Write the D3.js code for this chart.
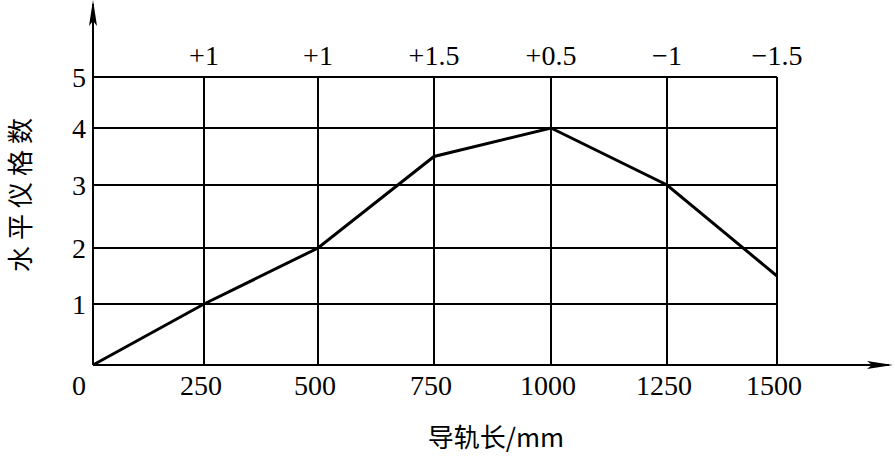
<!DOCTYPE html>
<html>
<head>
<meta charset="utf-8">
<script src="https://cdn.jsdelivr.net/npm/d3@7"></script>
<style>
  body { margin: 0; background: #fff; }
  text { fill: #000; }
</style>
</head>
<body>
<div class="board"></div>
<script>
// globals
var width = 895;
var height = 456;

// data
var lengths = [0, 250, 500, 750, 1000, 1250, 1500];
var readings = [0, 1, 2, 3.5, 4, 3, 1.5];
var yTicks = [1, 2, 3, 4, 5];
var diffLabels = ['+1', '+1', '+1.5', '+0.5', '\u22121', '\u22121.5'];
var xTitle = '导轨长/mm';
var yTitle = '水平仪格数';

// the grid in the original is hand drawn and not quite even, so the scales are piecewise
var x = d3.scaleLinear().domain(lengths).range([93, 204, 318, 434, 551, 667, 777]);
var y = d3.scaleLinear().domain([0].concat(yTicks)).range([365, 304, 248, 185, 128, 77]);

var serif = '"Liberation Serif", "Times New Roman", serif';
var cjk = '"Noto Sans CJK SC", sans-serif';

var svg = d3.select('.board').append('svg')
  .attr('width', width)
  .attr('height', height);

// horizontal grid
svg.append('g').selectAll('line').data(yTicks)
  .enter().append('line')
  .attr('x1', x(0))
  .attr('x2', x(1500))
  .attr('y1', function(d) { return y(d); })
  .attr('y2', function(d) { return y(d); })
  .attr('stroke', '#000')
  .attr('stroke-width', 2);

// vertical grid
svg.append('g').selectAll('line').data(lengths.slice(1))
  .enter().append('line')
  .attr('x1', function(d) { return x(d); })
  .attr('x2', function(d) { return x(d); })
  .attr('y1', y(0))
  .attr('y2', y(5))
  .attr('stroke', '#000')
  .attr('stroke-width', 2);

// axes with arrows
svg.append('line')
  .attr('x1', x(0)).attr('x2', x(0))
  .attr('y1', y(0)).attr('y2', 4)
  .attr('stroke', '#000').attr('stroke-width', 2);
svg.append('line')
  .attr('x1', x(0)).attr('x2', 889)
  .attr('y1', y(0)).attr('y2', y(0))
  .attr('stroke', '#000').attr('stroke-width', 2);

var ax = x(0);
svg.append('path')
  .attr('d', 'M' + ax + ',0 L' + (ax + 4) + ',26 L' + ax + ',21 L' + (ax - 4) + ',26 Z')
  .attr('fill', '#000');
var ay = y(0);
svg.append('path')
  .attr('d', 'M893,' + ay + ' L867,' + (ay - 4) + ' L872,' + ay + ' L867,' + (ay + 4) + ' Z')
  .attr('fill', '#000');

// the curve
var line = d3.line()
  .x(function(d, i) { return x(lengths[i]); })
  .y(function(d) { return y(d); });

svg.append('path')
  .datum(readings)
  .attr('d', line)
  .attr('fill', 'none')
  .attr('stroke', '#000')
  .attr('stroke-width', 3)
  .attr('stroke-linejoin', 'miter');

// bottom tick labels
svg.append('g').selectAll('text').data(lengths)
  .enter().append('text')
  .attr('x', function(d) { return d === 0 ? x(d) - 14 : x(d) - 3; })
  .attr('y', 395)
  .attr('text-anchor', 'middle')
  .style('font-family', serif)
  .style('font-size', '28px')
  .text(function(d) { return d; });

// left tick labels
svg.append('g').selectAll('text').data(yTicks)
  .enter().append('text')
  .attr('x', 86)
  .attr('y', function(d) { return y(d); })
  .attr('dy', '0.35em')
  .attr('text-anchor', 'end')
  .style('font-family', serif)
  .style('font-size', '28px')
  .text(function(d) { return d; });

// differences along the top
svg.append('g').selectAll('text').data(diffLabels)
  .enter().append('text')
  .attr('x', function(d, i) { return x(lengths[i + 1]); })
  .attr('y', 65)
  .attr('text-anchor', 'middle')
  .style('font-family', serif)
  .style('font-size', '28px')
  .text(function(d) { return d; });

// titles
svg.append('text')
  .attr('x', 496)
  .attr('y', 447)
  .attr('text-anchor', 'middle')
  .style('font-family', cjk)
  .style('font-size', '26px')
  .text(xTitle);

svg.append('text')
  .attr('transform', 'translate(30,192) rotate(-90)')
  .attr('text-anchor', 'middle')
  .style('font-family', cjk)
  .style('font-size', '26px')
  .style('letter-spacing', '6px')
  .text(yTitle);
</script>
</body>
</html>
